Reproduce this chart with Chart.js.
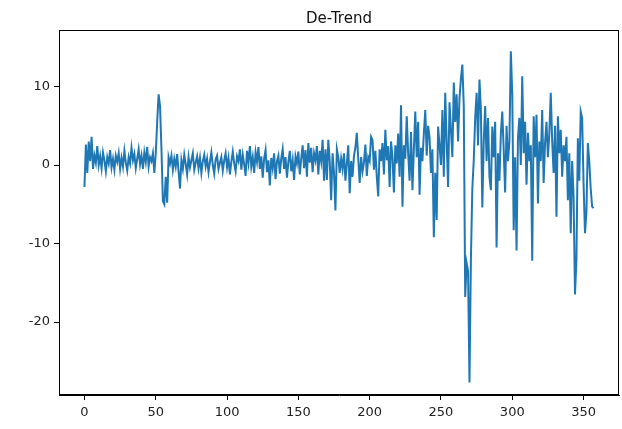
<!DOCTYPE html>
<html>
<head>
<meta charset="utf-8">
<script src="https://cdn.jsdelivr.net/npm/chart.js@4"></script>
<style>
    html, body { margin: 0; padding: 0; background: #fff; }
    #wrap { width: 622px; height: 429px; }
</style>
</head>
<body>
<div id="wrap"><canvas id="detrendChart" width="622" height="429"></canvas></div>
<script>
// de-trended series (index 0..357)
const detrend = [
    -2.8, 2.6, -1.0, 3.0, 0.5, 3.6, -0.5, 1.2, 0.3, 2.4,
    0.0, 1.1, -0.4, 1.6, 0.6, -0.8, 1.0, 0.2, 1.9, -0.3,
    0.8, -0.6, 1.2, 0.4, 1.5, -0.5, 0.9, -0.2, 1.8, 0.3,
    -0.7, 1.0, 0.2, 2.2, 0.6, 1.4, -0.4, 0.8, 2.0, 0.1,
    1.2, -0.5, 1.6, 0.4, 2.3, -0.2, 1.0, 0.5, 1.5, -1.0,
    1.5, 5.5, 9.0, 7.5, 2.0, -4.6, -5.0, -1.5, -4.8, 1.0,
    0.2, 1.2, -0.6, 0.8, -0.2, 1.4, -0.8, -3.0, 0.6, -0.5,
    1.3, 0.1, -1.2, 1.0, -0.3, 0.6, 1.5, -0.6, 0.3, 1.1,
    -0.4, 0.9, -1.0, 0.5, 1.3, -0.2, 0.8, -0.9, 0.4, 1.6,
    0.0, -1.1, 0.7, 1.2, -0.5, 0.3, 1.0, -0.7, 0.6, 1.5,
    -0.3, 0.9, -1.2, 0.4, 1.7, 0.2, -0.8, 1.1, 0.5, 2.0,
    -0.6, 1.3, 0.1, -1.4, 1.8, 0.3, 2.4, -0.2, 1.0, -1.0,
    1.6, 0.4, 2.3, -0.5, 1.1, -1.6, 0.8, 1.9, -0.9, 0.6,
    -2.6, 0.9, -0.4, 1.5, -1.8, 0.5, 1.2, -1.1, 0.8, 2.0,
    -0.5, 1.0, -1.6, 0.4, 1.8, -0.8, 0.6, -1.9, 1.1, 0.2,
    1.7, -1.2, 0.8, 2.5, -0.4, 1.9, -1.5, 2.8, 0.3, 2.2,
    -0.9, 1.5, 0.6, 2.4, -1.2, 1.8, 0.5, 3.2, -2.0, 2.0,
    -1.9, 3.2, 0.5, -4.5, 1.5, -1.0, -5.8, 2.0, 1.0, -1.0,
    0.8, -0.5, 1.5, -2.0, 0.2, 2.5, -3.6, 0.5, -1.5, 1.2,
    2.2, 4.1, 0.8, -2.3, 1.0, -0.8, 0.3, 2.6, -1.4, 1.0,
    0.5, 3.6, 3.2, -0.6, 1.8, -1.5, -4.0, 2.0, 0.5, 2.8,
    -1.2, 4.5, 0.6, 2.4, -2.8, 3.0, 1.0, -3.5, 2.5, 0.2,
    4.0, -1.5, 7.6, -5.3, 2.5, 0.8, 6.2, 1.5, -2.0, 4.2,
    -3.2, 2.0, 6.8, 1.0, 5.5, -3.8, 2.2, 0.5, 4.0, 7.0,
    1.2, 5.0, 3.5, -1.0, 2.0, -9.2, -1.0, -7.0, 4.9, 2.5,
    0.0, 7.0, -1.5, 9.2, 3.0, -2.8, 8.0, 4.5, 1.0, 10.5,
    5.5, 9.0, 3.0, 8.5, 11.0, 12.8, 7.5, -16.8, -12.5, -13.5,
    -27.7, -12.0, -3.0, 0.6, 6.0, 9.2, 2.5, 10.9, 7.0, -5.4,
    3.0, 7.5, 0.5, 6.0, -1.5, -3.2, 4.9, 1.0, 5.5, -10.5,
    1.5, -2.0, 4.0, 6.8, 1.9, -3.5, 5.0, 0.5, 3.0, 14.5,
    9.0, -8.3, 1.0, -10.9, 3.5, 6.0, 0.0, 11.3, 1.5, 5.5,
    -2.5, 4.1, 0.5, 2.5, -12.2, 6.2, 1.0, 6.4, -4.9, 3.0,
    0.5, 7.0, -2.3, 2.8, 5.5, 1.0, 4.0, 9.2, 3.0, -1.0,
    5.0, -6.6, 6.2, 1.5, 4.5, -1.5, 2.5, 0.5, 3.6, -4.5,
    1.5, -8.7, 0.5, -4.0, -16.5, -12.0, 3.4, -2.0, 6.8, 6.0,
    -2.3, -8.7, -6.0, 2.8, 0.5, -3.0, -5.3, -5.5
];
const xTicks = [0, 50, 100, 150, 200, 250, 300, 350];
const yTicks = [-20, -10, 0, 10];
const chartTitle = 'De-Trend';

// axis limits as in the picture
const n = detrend.length - 1;
const yLow = -29.3, yHigh = 17.2;

const frame = {
    id: 'frame',
    afterDraw(chart) {
        const a = chart.chartArea, ctx = chart.ctx;
        ctx.save();
        ctx.strokeStyle = '#000';
        ctx.lineWidth = 1;
        ctx.strokeRect(Math.round(a.left) + 0.5, Math.round(a.top) + 0.5,
            Math.round(a.right - a.left) - 1, Math.round(a.bottom - a.top) - 1);
        ctx.restore();
    }
};

const tickFont = { family: 'DejaVu Sans', size: 13 };

new Chart(document.getElementById('detrendChart'), {
    type: 'line',
    data: {
        datasets: [{
            data: detrend.map((v, i) => ({ x: i, y: v })),
            borderColor: '#1f77b4',
            borderWidth: 2,
            pointRadius: 0,
            tension: 0,
            fill: false
        }]
    },
    options: {
        responsive: false,
        animation: false,
        layout: { padding: { left: 0, right: 3, top: 0, bottom: 0 } },
        plugins: {
            legend: { display: false },
            tooltip: { enabled: false },
            title: {
                display: true,
                text: chartTitle,
                fullSize: false,
                color: '#111',
                font: { family: 'DejaVu Sans', size: 15, weight: 'normal' },
                padding: { top: 10, bottom: 2 }
            }
        },
        scales: {
            x: {
                type: 'linear',
                min: -0.05 * n,
                max: 1.05 * n,
                afterBuildTicks: s => { s.ticks = xTicks.map(v => ({ value: v })); },
                afterFit: s => { s.height = 34; },
                grid: { display: true, drawOnChartArea: false, drawTicks: true, tickLength: 5, color: '#000' },
                border: { display: true, color: '#000' },
                ticks: { color: '#222', font: tickFont, padding: 5, maxRotation: 0 }
            },
            y: {
                min: yLow,
                max: yHigh,
                afterBuildTicks: s => { s.ticks = yTicks.map(v => ({ value: v })); },
                afterFit: s => { s.width = 59; },
                grid: { display: true, drawOnChartArea: false, drawTicks: true, tickLength: 5, color: '#000' },
                border: { display: true, color: '#000' },
                ticks: { color: '#222', font: tickFont, padding: 4 }
            }
        }
    },
    plugins: [frame]
});
</script>
</body>
</html>
